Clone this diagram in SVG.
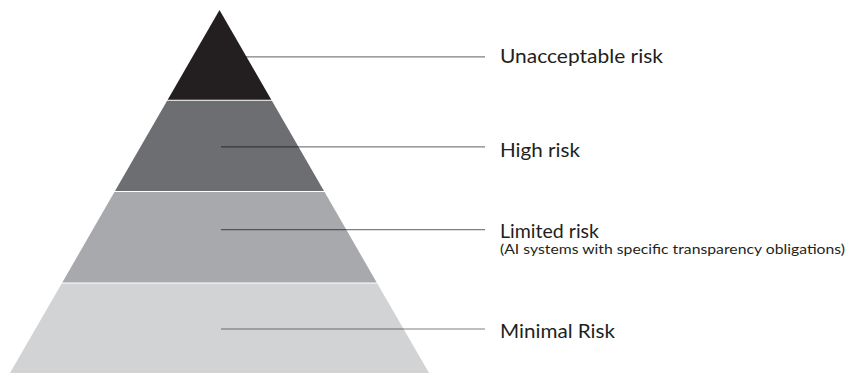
<svg xmlns="http://www.w3.org/2000/svg" width="847" height="373" viewBox="0 0 847 373">
<style>
.lbl{font-family:Lato,"Liberation Sans",sans-serif;font-size:20px;fill:#231f20}
.sub{font-family:Lato,"Liberation Sans",sans-serif;font-size:13px;fill:#231f20}
.lead{stroke:#000;stroke-opacity:0.5;stroke-width:1.2;fill:none}
</style>
<rect width="847" height="373" fill="#fff"/>
<g id="unacceptable">
<polygon points="219.5,10 271.3,99.7 167.7,99.7" fill="#231f20"/>
<text class="lbl" x="500" y="62.5" textLength="163" lengthAdjust="spacingAndGlyphs">Unacceptable risk</text>
</g>
<g id="high">
<polygon points="167.1,100.7 271.9,100.7 324,191 115,191" fill="#6d6e71"/>
<text class="lbl" x="500" y="156.5" textLength="80" lengthAdjust="spacingAndGlyphs">High risk</text>
</g>
<g id="limited">
<polygon points="114.4,192 324.6,192 376.7,282.5 62.3,282.5" fill="#a7a9ac"/>
<text class="lbl" x="500" y="237.5" textLength="99" lengthAdjust="spacingAndGlyphs">Limited risk</text>
<text class="sub" x="500" y="254" textLength="345" lengthAdjust="spacingAndGlyphs">(AI systems with specific transparency obligations)</text>
</g>
<g id="minimal">
<polygon points="61.7,283.5 377.3,283.5 429.9,374.5 9.1,374.5" fill="#d1d3d4"/>
<text class="lbl" x="500" y="337.5" textLength="115" lengthAdjust="spacingAndGlyphs">Minimal Risk</text>
</g>
<g id="connectors">
<line class="lead" x1="246" y1="56.8" x2="485" y2="56.8"/>
<line class="lead" x1="221" y1="146.8" x2="485" y2="146.8"/>
<line class="lead" x1="221" y1="229.7" x2="485" y2="229.7"/>
<line class="lead" x1="221" y1="329" x2="485" y2="329"/>
</g>
</svg>
